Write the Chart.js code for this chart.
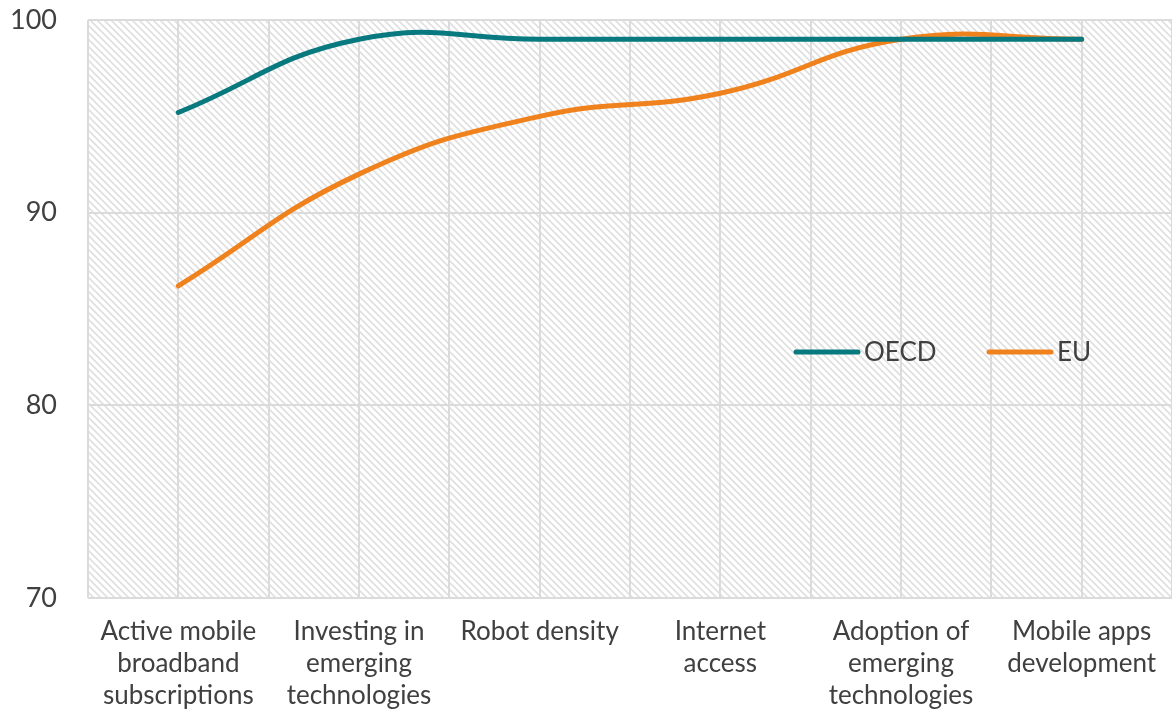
<!DOCTYPE html>
<html><head><meta charset="utf-8">
<script src="https://cdn.jsdelivr.net/npm/chart.js@4.4.0/dist/chart.umd.min.js"></script>
<style>html,body{margin:0;padding:0;background:#fff}#wrap{width:1172px;height:713px}</style>
</head><body><div id="wrap"><canvas id="c"></canvas></div>
<script>
const categories = [
  ["Active mobile","broadband","subscriptions"],
  ["Investing in","emerging","technologies"],
  ["Robot density"],
  ["Internet","access"],
  ["Adoption of","emerging","technologies"],
  ["Mobile apps","development"]
];
const oecdValues = [95.2, 99, 99, 99, 99, 99];
const euValues = [86.2, 92, 95, 96.2, 99, 99];
const yTicks = [70, 80, 90, 100];

const FONT = "Lato, 'Open Sans', sans-serif";
const TXT = '#404040';
const GRID = '#d9dbdd';

function makePattern() {
  const n = 7;
  const p = document.createElement('canvas');
  p.width = n; p.height = n;
  const g = p.getContext('2d');
  g.fillStyle = '#ffffff'; g.fillRect(0,0,n,n);
  g.strokeStyle = '#e0e0e0'; g.lineWidth = 1.7;
  g.beginPath();
  g.moveTo(-1,-1); g.lineTo(n+1,n+1);
  g.moveTo(-n-1,-1); g.lineTo(1,n+1);
  g.moveTo(n-1,-1); g.lineTo(2*n+1,n+1);
  g.stroke();
  return p;
}

const bgPlugin = {
  id: 'bg',
  beforeDraw(chart) {
    const {ctx, chartArea: a} = chart;
    ctx.save();
    ctx.fillStyle = ctx.createPattern(makePattern(), 'repeat');
    ctx.fillRect(a.left, a.top, a.right - a.left, a.bottom - a.top);
    ctx.restore();
  },
  beforeDatasetsDraw(chart) {
    const {ctx, chartArea: a, scales} = chart;
    ctx.save();
    ctx.strokeStyle = GRID; ctx.lineWidth = 2;
    for (let i = 0; i < categories.length; i++) {
      const x = Math.round(scales.x.getPixelForValue(i));
      ctx.beginPath(); ctx.moveTo(x, a.top); ctx.lineTo(x, a.bottom); ctx.stroke();
    }
    ctx.restore();
  },
  afterDatasetsDraw(chart) {
    const {ctx} = chart;
    ctx.save();
    ctx.font = '26px ' + FONT;
    ctx.textBaseline = 'middle';
    const items = [
      {label: 'OECD', color: '#08797f', x: 796},
      {label: 'EU', color: '#f0821e', x: 989}
    ];
    const y = 352;
    items.forEach(it => {
      ctx.strokeStyle = it.color; ctx.lineWidth = 5; ctx.lineCap = 'round';
      ctx.beginPath(); ctx.moveTo(it.x, y); ctx.lineTo(it.x + 62, y); ctx.stroke();
      ctx.fillStyle = TXT;
      ctx.fillText(it.label, it.x + 68, y + 1);
    });
    ctx.restore();
  }
};

new Chart(document.getElementById('c'), {
  type: 'line',
  data: {
    labels: categories,
    datasets: [
      {label: 'OECD', data: oecdValues, borderColor: '#08797f', borderWidth: 5, pointRadius: 0, tension: 0.45, borderCapStyle: 'round'},
      {label: 'EU', data: euValues, borderColor: '#f0821e', borderWidth: 5, pointRadius: 0, tension: 0.45, borderCapStyle: 'round'}
    ]
  },
  options: {
    responsive: true,
    maintainAspectRatio: false,
    animation: false,
    layout: {padding: {top: 20, right: 0, bottom: 0, left: 0}},
    plugins: {legend: {display: false}, tooltip: {enabled: false}},
    scales: {
      x: {
        offset: true,
        grid: {offset: true, color: GRID, lineWidth: 2, drawTicks: false},
        border: {display: false},
        ticks: {color: TXT, font: {family: FONT, size: 26, lineHeight: 1.23}, padding: 18, maxRotation: 0, autoSkip: false},
        afterFit(s) { s.height = 115; s.paddingLeft = 0; s.paddingRight = 0; }
      },
      y: {
        min: 70, max: 100,
        afterBuildTicks(s) { s.ticks = yTicks.map(v => ({value: v})); },
        grid: {color: GRID, lineWidth: 2, drawTicks: false},
        border: {display: false},
        ticks: {color: TXT, font: {family: FONT, size: 27}, padding: 31},
        afterFit(s) { s.width = 88; s.paddingTop = 0; s.paddingBottom = 0; }
      }
    }
  },
  plugins: [bgPlugin]
});
</script></body></html>
